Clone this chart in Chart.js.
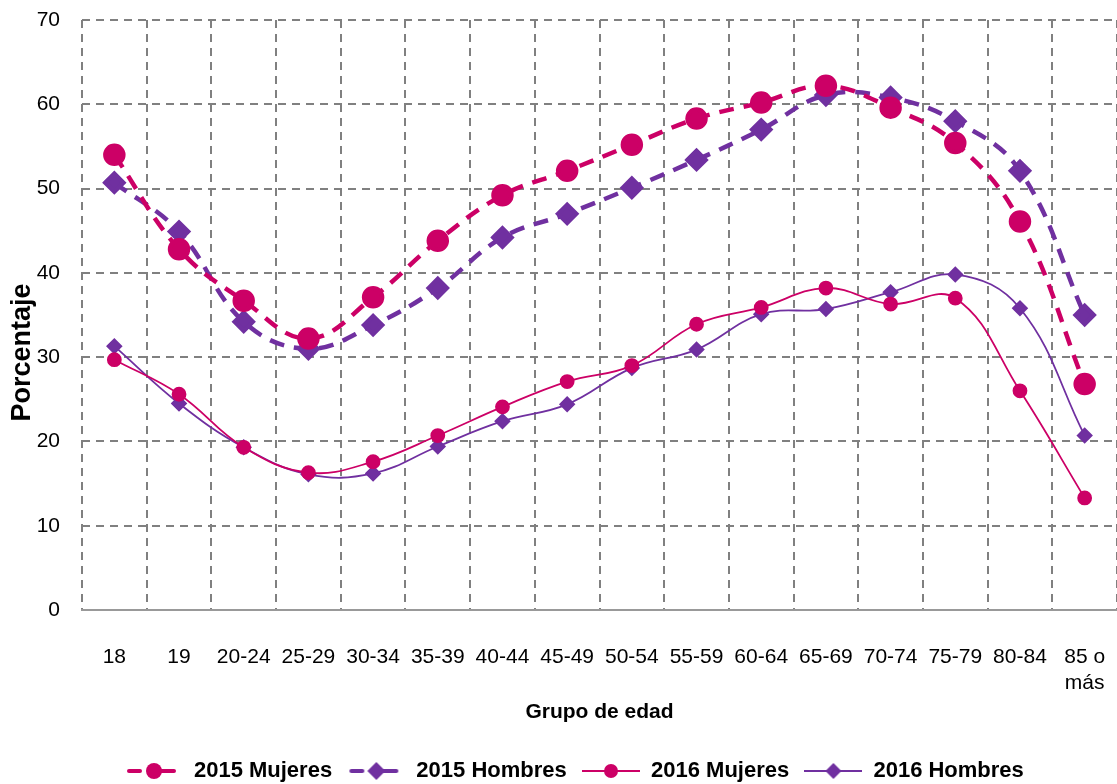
<!DOCTYPE html>
<html lang="es">
<head>
  <meta charset="UTF-8">
  <title>Porcentaje por grupo de edad</title>
  <script src="https://cdn.jsdelivr.net/npm/chart.js"></script>
  <style>
    html, body { margin: 0; padding: 0; background: #fff; }
    .container { width: 1117px; height: 784px; }
  </style>
</head>
<body>
  <div class="container">
    <canvas id="edadChart" width="1117" height="784"></canvas>
  </div>

  <script>
    // categories and series
    const grupos = ['18', '19', '20-24', '25-29', '30-34', '35-39', '40-44', '45-49',
      '50-54', '55-59', '60-64', '65-69', '70-74', '75-79', '80-84', ['85 o', 'más']];
    const mujeres2015 = [54.0, 42.8, 36.7, 32.2, 37.1, 43.8, 49.2, 52.1, 55.2, 58.3, 60.2, 62.2, 59.6, 55.4, 46.1, 26.8];
    const hombres2015 = [50.7, 44.9, 34.2, 31.0, 33.8, 38.2, 44.2, 47.0, 50.1, 53.4, 57.0, 61.1, 60.8, 58.0, 52.1, 35.0];
    const mujeres2016 = [29.7, 25.6, 19.3, 16.3, 17.6, 20.7, 24.1, 27.1, 29.0, 33.9, 35.9, 38.2, 36.3, 37.0, 26.0, 13.3];
    const hombres2016 = [31.3, 24.5, 19.3, 16.1, 16.2, 19.4, 22.4, 24.4, 28.7, 30.9, 35.1, 35.7, 37.7, 39.8, 35.8, 20.7];

    const MAGENTA = '#cc0066';
    const PURPLE = '#7030a0';
    const FONT = "'Liberation Sans Narrow', 'Liberation Sans', Arial, sans-serif";

    // small legend swatch: line + marker
    function swatch(color, dashed, style, r) {
      const c = document.createElement('canvas');
      c.width = 58; c.height = 22;
      const g = c.getContext('2d');
      const cx = 29;
      g.strokeStyle = color;
      g.fillStyle = color;
      g.lineWidth = dashed ? 4 : 2;
      g.lineCap = dashed ? 'round' : 'butt';
      if (dashed) {
        g.beginPath(); g.moveTo(cx - 25, 11); g.lineTo(cx - 14, 11); g.stroke();
        g.beginPath(); g.moveTo(cx + 4, 11); g.lineTo(cx + 20, 11); g.stroke();
      } else {
        g.beginPath(); g.moveTo(cx - 29, 11); g.lineTo(cx + 29, 11); g.stroke();
      }
      g.beginPath();
      if (style === 'circle') {
        g.arc(cx, 11, r, 0, Math.PI * 2);
      } else {
        g.moveTo(cx, 11 - r); g.lineTo(cx + r, 11); g.lineTo(cx, 11 + r); g.lineTo(cx - r, 11); g.closePath();
      }
      g.fill();
      return c;
    }

    // nudge the legend block so it centres like the original
    const legendShift = {
      id: 'legendShift',
      afterLayout(chart) { if (chart.legend) chart.legend.left += 44; }
    };

    const ctx = document.getElementById('edadChart').getContext('2d');
    const edadChart = new Chart(ctx, {
      type: 'line',
      data: {
        labels: grupos,
        datasets: [
          {
            label: '2015 Mujeres',
            data: mujeres2015,
            borderColor: MAGENTA,
            backgroundColor: MAGENTA,
            borderWidth: 4.5,
            borderDash: [15, 10],
            pointStyle: 'circle',
            pointRadius: 9,
            legendImg: swatch(MAGENTA, true, 'circle', 8),
            tension: 0.4
          },
          {
            label: '2015 Hombres',
            data: hombres2015,
            borderColor: PURPLE,
            backgroundColor: PURPLE,
            borderWidth: 4.5,
            borderDash: [15, 10],
            pointStyle: 'rectRot',
            pointRadius: 9,
            legendImg: swatch(PURPLE, true, 'diamond', 9),
            tension: 0.4
          },
          {
            label: '2016 Mujeres',
            data: mujeres2016,
            borderColor: MAGENTA,
            backgroundColor: MAGENTA,
            borderWidth: 1.8,
            pointStyle: 'circle',
            pointRadius: 6.5,
            legendImg: swatch(MAGENTA, false, 'circle', 7),
            tension: 0.4
          },
          {
            label: '2016 Hombres',
            data: hombres2016,
            borderColor: PURPLE,
            backgroundColor: PURPLE,
            borderWidth: 1.8,
            pointStyle: 'rectRot',
            pointRadius: 7,
            legendImg: swatch(PURPLE, false, 'diamond', 8),
            tension: 0.4
          }
        ]
      },
      options: {
        responsive: false,
        animation: false,
        layout: { autoPadding: false, padding: { top: 20, left: 0, right: 0, bottom: -8 } },
        plugins: {
          tooltip: { enabled: false },
          legend: {
            position: 'bottom',
            labels: {
              usePointStyle: true,
              pointStyleWidth: 58,
              padding: 3,
              color: '#000',
              font: { family: FONT, size: 22, weight: 'bold', lineHeight: 1 },
              generateLabels: (chart) => chart.data.datasets.map((ds, i) => ({
                text: ds.label + '  ',
                pointStyle: ds.legendImg,
                fillStyle: ds.borderColor,
                strokeStyle: ds.borderColor,
                lineWidth: 0,
                hidden: false,
                datasetIndex: i,
                fontColor: '#000'
              }))
            }
          }
        },
        scales: {
          x: {
            offset: true,
            grid: { offset: true, color: '#808080', lineWidth: 2, drawTicks: true, tickLength: 35, tickColor: 'rgba(0,0,0,0)' },
            border: { display: true, color: '#999999', width: 2, dash: [8, 6] },
            ticks: {
              color: '#000', padding: 0, maxRotation: 0, autoSkip: false,
              font: { family: FONT, size: 21 }
            },
            title: {
              display: true, text: 'Grupo de edad', color: '#000',
              font: { family: FONT, size: 21, weight: 'bold' },
              padding: { top: 4, bottom: 32 }
            },
            afterFit: (scale) => { scale.height = 147; }
          },
          y: {
            min: 0, max: 70,
            grid: { color: '#808080', lineWidth: 2, drawTicks: true, tickLength: 22, tickColor: 'rgba(0,0,0,0)' },
            border: { display: false, dash: [8, 6] },
            ticks: {
              stepSize: 10, color: '#000', padding: 0,
              font: { family: FONT, size: 21 }
            },
            title: {
              display: true, text: 'Porcentaje' + '\u00a0'.repeat(10), color: '#000',
              font: { family: FONT, size: 27, weight: 'bold' },
              padding: { top: 6, bottom: 0 }
            },
            afterFit: (scale) => { scale.width = 82; }
          }
        }
      },
      plugins: [legendShift]
    });
  </script>
</body>
</html>
